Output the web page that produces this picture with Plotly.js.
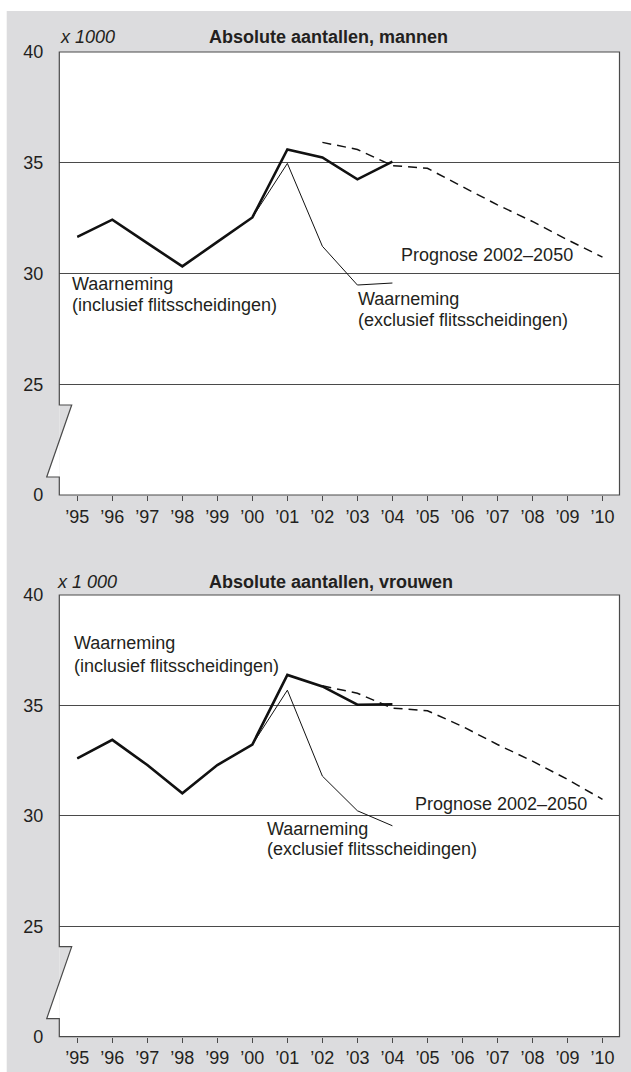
<!DOCTYPE html>
<html>
<head>
<meta charset="utf-8">
<script src="https://cdn.plot.ly/plotly-3.0.1.min.js"></script>
<style>
html,body{margin:0;padding:0;background:#ffffff;}
#chart{width:631px;height:1072px;}
</style>
</head>
<body>
<div id="chart"></div>
<script>
// ---- data (x 1000) ----
const years = [1995,1996,1997,1998,1999,2000,2001,2002,2003,2004,2005,2006,2007,2008,2009,2010];
const yearLabels = ['’95','’96','’97','’98','’99','’00','’01','’02','’03','’04','’05','’06','’07','’08','’09','’10'];
const obsYears = [1995,1996,1997,1998,1999,2000,2001,2002,2003,2004];
const exclYears = [1995,1996,1997,1998,1999,2000,2001,2002,2003];
const progYears = [2002,2003,2004,2005,2006,2007,2008,2009,2010];
const leaderYears = [2003,2004];

const menIncl = [31.65,32.43,31.37,30.32,31.43,32.53,35.6,35.24,34.25,35.05];
const menExcl = [31.65,32.43,31.37,30.32,31.43,32.53,34.97,31.23,29.48];
const menProg = [35.92,35.6,34.87,34.75,33.92,33.1,32.35,31.52,30.74];
const menLeader = [29.48,29.57];

const womenIncl = [32.6,33.44,32.3,31.02,32.3,33.23,36.38,35.86,35.03,35.05];
const womenExcl = [32.6,33.44,32.3,31.02,32.3,33.23,35.69,31.8,30.23];
const womenProg = [35.89,35.55,34.88,34.76,34.05,33.23,32.48,31.65,30.75];
const womenLeader = [30.23,29.55];

const yTickVals = [20,25,30,35,40];
const yTickText = ['0','25','30','35','40'];

// ---- layout helpers ----
const W = 631, H = 1072;
const fx = p => p / W;
const fy = p => 1 - p / H;
const L = 59.3, R = 619.5;
const panels = [{top:52, bot:495}, {top:595, bot:1036.7}];
const TXT = '#231f20';
const LINE = '#4a4a4a';
const FONT = 'Liberation Sans, Arial, Helvetica, sans-serif';

function tr(x, y, axis, width, dash) {
  return {x: x, y: y, xaxis: 'x' + axis, yaxis: 'y' + axis, type: 'scatter', mode: 'lines',
    line: {color: '#111111', width: width, dash: dash || 'solid'}, hoverinfo: 'skip', showlegend: false};
}

const data = [
  tr(exclYears, menExcl, '', 1),
  tr(leaderYears, menLeader, '', 1),
  tr(progYears, menProg, '', 1.5, '9px,6px'),
  tr(obsYears, menIncl, '', 2.6),
  tr(exclYears, womenExcl, '2', 1),
  tr(leaderYears, womenLeader, '2', 1),
  tr(progYears, womenProg, '2', 1.5, '9px,6px'),
  tr(obsYears, womenIncl, '2', 2.6)
];

function xax(p) {
  return {domain: [fx(L), fx(R)], range: [1994.486, 2010.486], tickvals: years, ticktext: yearLabels,
    ticks: 'outside', ticklen: 5, tickwidth: 1, tickcolor: LINE, showgrid: false, zeroline: false,
    showline: false, anchor: p.anchor, fixedrange: true,
    tickfont: {family: FONT, size: 18, color: TXT}};
}
function yax(p) {
  return {domain: [fy(p.bot), fy(p.top)], range: [20, 40], tickvals: yTickVals, ticktext: yTickText,
    ticks: '', showgrid: true, gridcolor: LINE, gridwidth: 1, zeroline: false, showline: false,
    anchor: p.xanchor, ticklabelstandoff: 15, fixedrange: true,
    tickfont: {family: FONT, size: 18, color: TXT}};
}

const shapes = [
  // white strips outside the gray panel
  {type: 'rect', xref: 'paper', yref: 'paper', x0: 0, x1: 1, y0: fy(11), y1: 1, fillcolor: '#ffffff', line: {width: 0}, layer: 'below'},
  {type: 'rect', xref: 'paper', yref: 'paper', x0: 0, x1: fx(6.7), y0: 0, y1: 1, fillcolor: '#ffffff', line: {width: 0}, layer: 'below'}
];
panels.forEach(p => {
  const b1 = p.bot - 90, b2 = p.bot - 18, mid = p.bot - 90 + (12.4 / 25) * 72;
  shapes.push({type: 'path', xref: 'paper', yref: 'paper', layer: 'below',
    path: `M ${fx(L)},${fy(b1)} L ${fx(L + 12.4)},${fy(b1)} L ${fx(L)},${fy(mid)} Z`,
    fillcolor: '#dcdcde', line: {width: 0}});
  shapes.push({type: 'path', xref: 'paper', yref: 'paper', layer: 'below',
    path: `M ${fx(L)},${fy(mid)} L ${fx(L - 12.6)},${fy(b2)} L ${fx(L)},${fy(b2)} Z`,
    fillcolor: '#ffffff', line: {width: 0}});
  shapes.push({type: 'path', xref: 'paper', yref: 'paper', layer: 'above',
    path: `M ${fx(L)},${fy(p.top)} L ${fx(R)},${fy(p.top)} L ${fx(R)},${fy(p.bot)} L ${fx(L)},${fy(p.bot)} ` +
          `L ${fx(L)},${fy(b2)} L ${fx(L - 12.6)},${fy(b2)} L ${fx(L + 12.4)},${fy(b1)} L ${fx(L)},${fy(b1)} Z`,
    line: {color: LINE, width: 1.2}});
});

function ann(text, x, y, xanchor, opts) {
  return Object.assign({text: text, xref: 'paper', yref: 'paper', x: fx(x), y: fy(y), xanchor: xanchor,
    yanchor: 'middle', showarrow: false, align: 'left', borderpad: 0,
    font: {family: FONT, size: 18, color: TXT}}, opts || {});
}

const annotations = [
  ann('<b>Absolute aantallen, mannen</b>', 329, 37, 'center'),
  ann('<i>x 1000</i>', 59, 37, 'left'),
  ann('Waarneming', 71, 284, 'left'),
  ann('(inclusief flitsscheidingen)', 71, 305, 'left'),
  ann('Waarneming', 356.5, 299.5, 'left'),
  ann('(exclusief flitsscheidingen)', 356.5, 320, 'left'),
  ann('Prognose 2002–2050', 573.5, 255, 'right'),

  ann('<b>Absolute aantallen, vrouwen</b>', 330.5, 582, 'center'),
  ann('<i>x 1 000</i>', 56, 582, 'left'),
  ann('Waarneming', 72.5, 643, 'left'),
  ann('(inclusief flitsscheidingen)', 72.5, 666, 'left'),
  ann('Prognose 2002–2050', 587.5, 803.5, 'right'),
  ann('Waarneming', 266, 828.5, 'left'),
  ann('(exclusief flitsscheidingen)', 266, 848.5, 'left')
];

const layout = {
  width: W, height: H,
  margin: {l: 0, r: 0, t: 0, b: 0, pad: 0, autoexpand: false},
  paper_bgcolor: '#dcdcde',
  plot_bgcolor: '#ffffff',
  showlegend: false,
  font: {family: FONT, size: 18, color: TXT},
  xaxis: xax({anchor: 'y'}),
  yaxis: yax({top: 52, bot: 495, xanchor: 'x'}),
  xaxis2: xax({anchor: 'y2'}),
  yaxis2: yax({top: 595, bot: 1036.7, xanchor: 'x2'}),
  shapes: shapes,
  annotations: annotations
};

Plotly.newPlot('chart', data, layout, {displayModeBar: false, staticPlot: true});
</script>
</body>
</html>
